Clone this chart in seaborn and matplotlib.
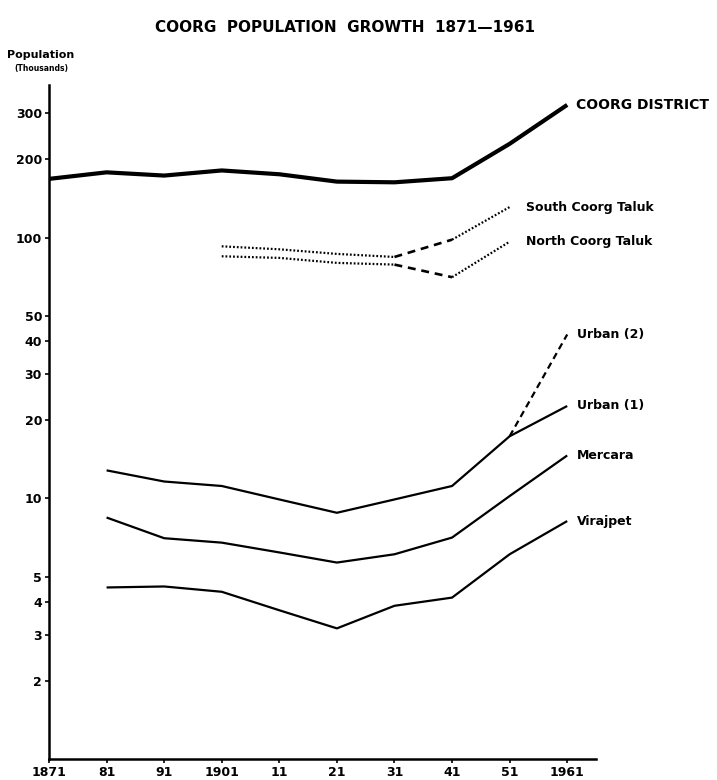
import matplotlib
matplotlib.use("Agg")
import matplotlib.pyplot as plt
import seaborn as sns
import pandas as pd

# ---- data (population in thousands) ----
years = [1871, 1881, 1891, 1901, 1911, 1921, 1931, 1941, 1951, 1961]
coorg_district = [168, 178, 173, 181, 175, 164, 163, 169, 229, 323]

taluk_years = [1901, 1911, 1921, 1931, 1941, 1951]
south_coorg = [92.6, 90.2, 86.6, 84.3, 98.2, 131]
north_coorg = [84.8, 83.6, 80.0, 78.8, 70.5, 96.5]

town_years = [1881, 1891, 1901, 1911, 1921, 1931, 1941, 1951, 1961]
urban1 = [12.8, 11.6, 11.15, 9.9, 8.8, 9.9, 11.15, 17.3, 22.6]
mercara = [8.44, 7.03, 6.76, 6.2, 5.67, 6.1, 7.07, 10.2, 14.6]
virajpet = [4.55, 4.59, 4.38, 3.72, 3.17, 3.87, 4.16, 6.1, 8.18]

urban2_years = [1951, 1961]
urban2 = [17.3, 42.5]

ytick_values = [2, 3, 4, 5, 10, 20, 30, 40, 50, 100, 200, 300]
xtick_labels = ["1871", "81", "91", "1901", "11", "21", "31", "41", "51", "1961"]

sns.set_style("ticks")
plt.rcParams["font.family"] = ["DejaVu Sans"]
plt.rcParams["font.weight"] = "bold"
K = "black"
for key in ("text.color", "axes.labelcolor", "xtick.color", "ytick.color",
            "axes.edgecolor"):
    plt.rcParams[key] = K

W, H = 717, 780
fig = plt.figure(figsize=(W / 100, H / 100), dpi=100)
ax = fig.add_axes([49 / W, 1 - 759 / H, (596 - 49) / W, (759 - 85) / H])


def line(x, y, **kw):
    sns.lineplot(x=x, y=y, ax=ax, color=K, solid_capstyle="butt",
                 dash_capstyle="butt", **kw)

line(years, coorg_district, linewidth=3.0)
for s in (urban1, mercara, virajpet):
    line(town_years, s, linewidth=1.6)
line(urban2_years, urban2, linewidth=1.6, linestyle=(0, (3, 2)))

dotted = (0, (0.8, 0.9))
dashed = (0, (3, 2.2))
for s in (south_coorg, north_coorg):
    line(taluk_years[0:4], s[0:4], linewidth=1.6, linestyle=dotted)
    line(taluk_years[3:5], s[3:5], linewidth=1.9, linestyle=dashed)
    line(taluk_years[4:6], s[4:6], linewidth=1.6, linestyle=dotted)

ax.set_yscale("log")
ax.set_ylim(1.0, 385)
ax.set_xlim(1871, 1966)
ax.set_yticks(ytick_values)
ax.set_yticklabels([str(v) for v in ytick_values])
ax.minorticks_off()
ax.set_xticks(years)
ax.set_xticklabels(xtick_labels)
ax.tick_params(axis="both", direction="out", length=3, width=1.2,
               labelsize=9, pad=2, colors=K)
for lab in ax.get_xticklabels() + ax.get_yticklabels():
    lab.set_fontweight("bold")
ax.set_xlabel("")
ax.set_ylabel("")
for side in ("top", "right"):
    ax.spines[side].set_visible(False)
for side in ("left", "bottom"):
    ax.spines[side].set_linewidth(1.8)
    ax.spines[side].set_color(K)


def label(x, y, text, dx, size=9):
    ax.annotate(text, xy=(x, y), xytext=(dx, 0), textcoords="offset points",
                ha="left", va="center", fontsize=size, fontweight="bold",
                color=K)

label(years[-1], coorg_district[-1], "COORG DISTRICT", 6, size=10)
label(taluk_years[-1], south_coorg[-1], "South Coorg Taluk", 12)
label(taluk_years[-1], north_coorg[-1], "North Coorg Taluk", 12)
label(urban2_years[-1], urban2[-1], "Urban (2)", 7)
label(town_years[-1], urban1[-1], "Urban (1)", 7)
label(town_years[-1], mercara[-1], "Mercara", 7)
label(town_years[-1], virajpet[-1], "Virajpet", 7)

fig.text(345 / W, 1 - 28 / H, "COORG  POPULATION  GROWTH  1871—1961",
         ha="center", va="center", fontsize=11, fontweight="bold", color=K)
fig.text(41 / W, 1 - 55 / H, "Population", ha="center", va="center",
         fontsize=8, fontweight="bold", color=K)
fig.text(41 / W, 1 - 68 / H, "(Thousands)", ha="center", va="center",
         fontsize=5.5, fontweight="bold", color=K)

fig.savefig("out.png", dpi=100, facecolor="white")
